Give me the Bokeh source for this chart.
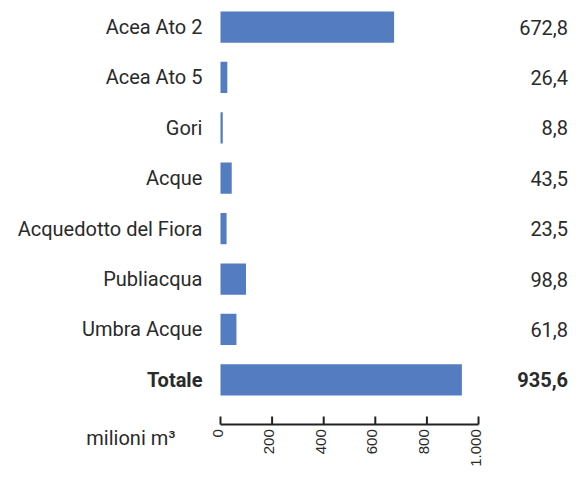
import math
from bokeh.plotting import figure
from bokeh.models import ColumnDataSource, Range1d
from bokeh.embed import file_html
from bokeh.resources import INLINE
from bokeh.core.properties import value

categories = ["Acea Ato 2", "Acea Ato 5", "Gori", "Acque", "Acquedotto del Fiora",
              "Publiacqua", "Umbra Acque", "Totale"]
values = [672.8, 26.4, 8.8, 43.5, 23.5, 98.8, 61.8, 935.6]
value_labels = ["672,8", "26,4", "8,8", "43,5", "23,5", "98,8", "61,8", "935,6"]
tick_values = [0, 200, 400, 600, 800, 1000]
tick_labels = ["0", "200", "400", "600", "800", "1.000"]
unit_label = "milioni m³"

rows = list(range(len(categories)))
weights = ["normal"] * (len(categories) - 1) + ["bold"]

src = ColumnDataSource(dict(y=rows, v=values, cat=categories, lab=value_labels,
                            w=weights, zero=[0] * len(rows),
                            cx=[-70] * len(rows), vx=[1347] * len(rows)))

# axis geometry (row units)
AXIS_Y = 7.887
TICK_TOP = 7.728
LABEL_Y = 7.98

tsrc = ColumnDataSource(dict(x=tick_values, lab=tick_labels,
                             y0=[AXIS_Y] * len(tick_values),
                             y1=[TICK_TOP] * len(tick_values),
                             ly=[LABEL_Y] * len(tick_values)))

p = figure(width=568, height=467, output_backend="svg", toolbar_location=None,
           x_range=Range1d(-852.7, 1348.8), y_range=Range1d(8.740, -0.526),
           min_border_left=0, min_border_right=0, min_border_top=0,
           min_border_bottom=0)
p.outline_line_color = None
p.grid.visible = False
p.axis.visible = False
p.background_fill_color = "white"
p.border_fill_color = "white"

p.hbar(y="y", left="zero", right="v", height=0.62, source=src,
       fill_color="#547DC1", line_color=None)

p.text(x="cx", y="y", text="cat", source=src, text_align="right",
       text_baseline="middle", text_font=value("Roboto"), text_font_size="20px",
       text_font_style="w", text_color="#2a2a2a")
p.text(x="vx", y="y", text="lab", source=src, text_align="right",
       text_baseline="middle", text_font=value("Roboto"), text_font_size="20px",
       text_font_style="w", text_color="#2a2a2a")

# value axis
p.segment(x0=tick_values[0], y0=AXIS_Y, x1=tick_values[-1], y1=AXIS_Y,
          line_color="#222222", line_width=2)
p.segment(x0="x", y0="y0", x1="x", y1="y1", source=tsrc,
          line_color="#222222", line_width=2)
p.text(x="x", y="ly", text="lab", source=tsrc, angle=math.pi / 2,
       text_align="right", text_baseline="middle", x_offset=-3,
       text_font=value("Liberation Sans"), text_font_size="15px",
       text_color="#2a2a2a")

p.text(x=[-174], y=[8.145], text=[unit_label], text_align="right",
       text_baseline="middle", text_font=value("Roboto"), text_font_size="20px",
       text_color="#2a2a2a")

open("out.html", "w").write(file_html(p, INLINE))
